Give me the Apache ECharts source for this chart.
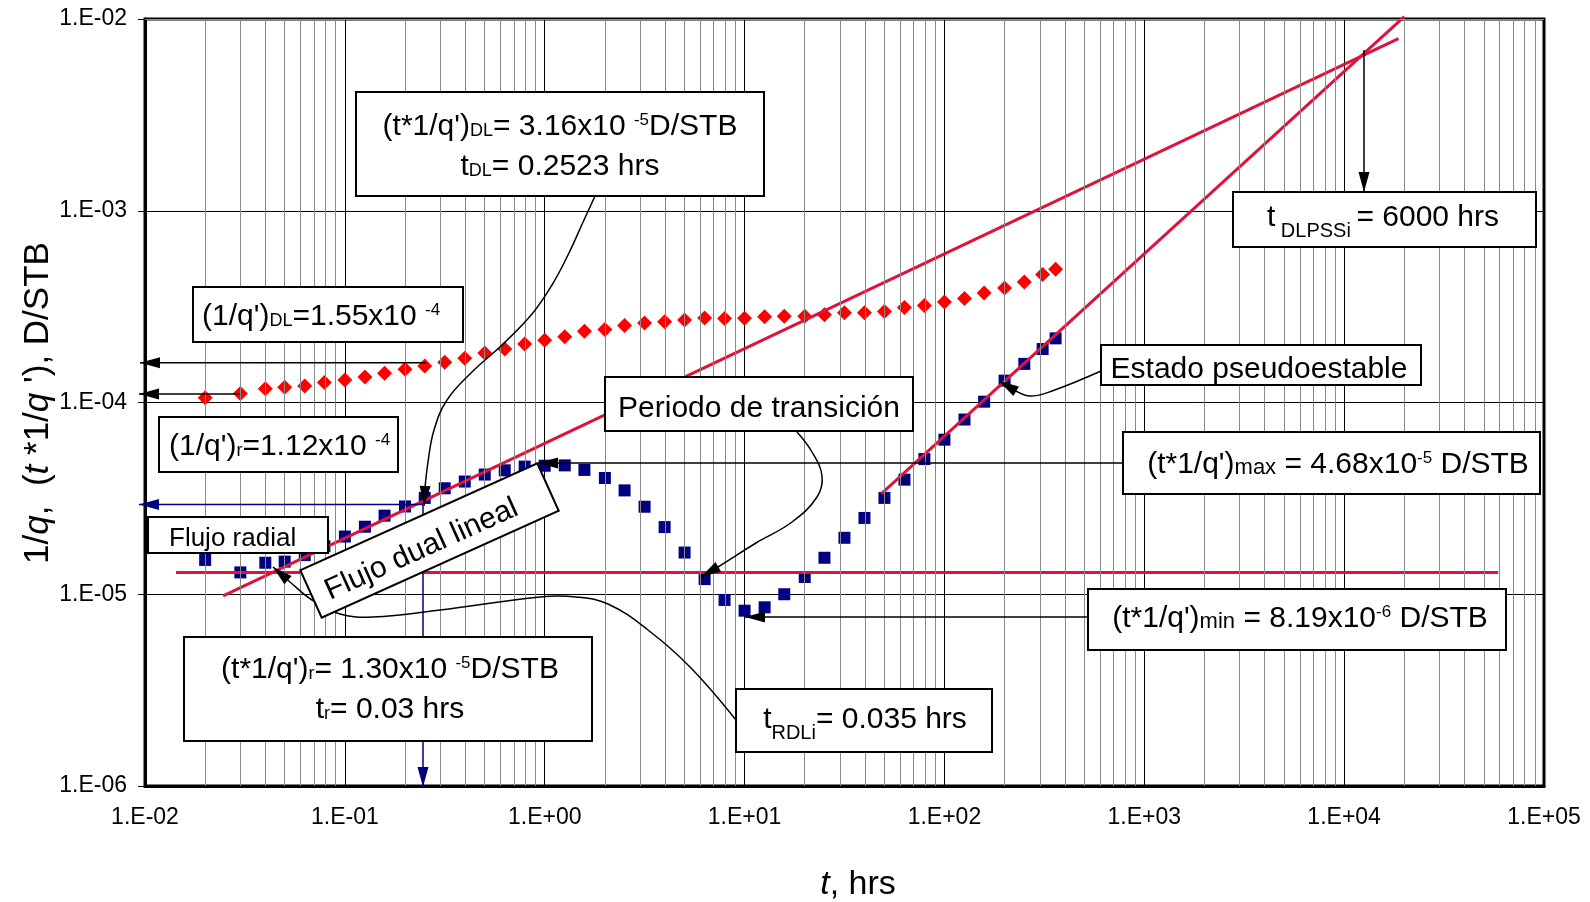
<!DOCTYPE html>
<html><head><meta charset="utf-8">
<script src="https://cdn.jsdelivr.net/npm/echarts@6/dist/echarts.min.js"></script>
<style>html,body{margin:0;padding:0;background:#fff}#c{width:1590px;height:902px}</style>
</head><body><div id="c"></div>
<script>
// ---------- data ----------
const tHours = [0.02,0.03,0.04,0.05,0.063,0.079,0.1,0.126,0.158,0.2,0.251,0.316,0.398,0.501,0.631,0.794,1.0,
  1.26,1.58,2.0,2.51,3.16,3.98,5.01,6.31,7.94,10,12.6,15.8,20,25.1,31.6,39.8,50.1,63.1,79.4,100,126,158,200,251,310,360];
const invQ = [1.06e-4,1.115e-4,1.18e-4,1.20e-4,1.22e-4,1.27e-4,1.31e-4,1.36e-4,1.42e-4,1.49e-4,1.55e-4,1.62e-4,1.70e-4,1.81e-4,1.90e-4,2.02e-4,2.11e-4,
  2.20e-4,2.35e-4,2.40e-4,2.52e-4,2.60e-4,2.64e-4,2.69e-4,2.76e-4,2.74e-4,2.75e-4,2.80e-4,2.82e-4,2.82e-4,2.87e-4,2.94e-4,2.94e-4,2.98e-4,3.13e-4,3.21e-4,3.34e-4,3.49e-4,3.72e-4,3.96e-4,4.25e-4,4.65e-4,4.96e-4];
const tDerivInvQ = [1.51e-5,1.30e-5,1.46e-5,1.48e-5,1.60e-5,1.78e-5,2.00e-5,2.25e-5,2.57e-5,2.87e-5,3.18e-5,3.57e-5,3.87e-5,4.21e-5,4.43e-5,4.63e-5,4.68e-5,
  4.70e-5,4.45e-5,4.04e-5,3.48e-5,2.86e-5,2.24e-5,1.65e-5,1.20e-5,9.34e-6,8.21e-6,8.55e-6,1.00e-5,1.23e-5,1.55e-5,1.97e-5,2.50e-5,3.18e-5,3.96e-5,5.07e-5,6.40e-5,8.15e-5,1.01e-4,1.30e-4,1.59e-4,1.90e-4,2.16e-4];
const radialLineT = [0.0143, 59000], radialLineV = [1.30e-5, 1.30e-5];
const dualLinearT = [0.0246, 18700], dualLinearV = [9.8e-6, 7.9e-3];
const pseudoT = [48.4, 20000], pseudoV = [3.35e-5, 1.03e-2];
const xMin = 0.01, xMax = 1e5, yMin = 1e-6, yMax = 1e-2;

// ---------- helpers ----------
const F = "'Liberation Sans', Arial, Helvetica, sans-serif";
const pair = (xs, ys) => xs.map((x, i) => [x, ys[i]]);
const sciLabel = v => { const e = Math.round(Math.log10(v)); return '1.E' + (e < 0 ? '-' : '+') + String(Math.abs(e)).padStart(2, '0'); };

const minorX = [], minorY = [];
for (let k = -2; k <= 4; k++) for (let m = 2; m <= 9; m++) minorX.push(+(m * Math.pow(10, k)).toPrecision(3));
for (let k = -6; k <= -3; k++) for (let m = 2; m <= 9; m++) minorY.push(+(m * Math.pow(10, k)).toPrecision(3));

function richStyles(LH) {
  return {
    b: {fontSize: 30, fontFamily: F, color: '#000', verticalAlign: 'top', lineHeight: LH},
    s: {fontSize: 18, fontFamily: F, color: '#000', verticalAlign: 'top', lineHeight: LH, padding: [10, 0, 0, 0]},
    p: {fontSize: 17, fontFamily: F, color: '#000', verticalAlign: 'top', lineHeight: LH, padding: [0, 0, 0, 0]},
    l: {fontSize: 20, fontFamily: F, color: '#000', verticalAlign: 'top', lineHeight: LH, padding: [18, 0, 0, 0]},
    m: {fontSize: 22, fontFamily: F, color: '#000', verticalAlign: 'top', lineHeight: LH, padding: [7, 0, 0, 0]}
  };
}
function box(x, y, w, h) {
  return {type: 'rect', z: 100, shape: {x, y, width: w, height: h}, style: {fill: '#fff', stroke: '#000', lineWidth: 2}};
}
function rtext(x, y, text, align, LH) {
  return {type: 'text', z: 101, x, y, style: {text, align, verticalAlign: 'middle', rich: richStyles(LH || 30)}};
}
function ptext(x, y, text, size, align) {
  return {type: 'text', z: 101, x, y, style: {text, align: align || 'center', verticalAlign: 'middle', fontSize: size, fontFamily: F, fill: '#000'}};
}
function head(tip, from, color, L, W) {
  L = L || 20; W = W || 5.5;
  const dx = tip[0] - from[0], dy = tip[1] - from[1], d = Math.hypot(dx, dy);
  const ux = dx / d, uy = dy / d, bx = tip[0] - ux * L, by = tip[1] - uy * L;
  return {type: 'polygon', z: 95, shape: {points: [tip, [bx - uy * W, by + ux * W], [bx + uy * W, by - ux * W]]}, style: {fill: color || '#000'}};
}
function arrow(points, tip, color, smooth, lw) {
  return [
    {type: 'polyline', z: 94, shape: {points: points.concat([tip]), smooth: smooth || 0}, style: {stroke: color || '#000', lineWidth: lw || 1.5, fill: null}},
    head(tip, points[points.length - 1], color)
  ];
}

const graphics = [].concat(
  // arrows / leaders
  arrow([[596,194],[584,220],[568,255],[552,285],[532,314],[502,345],[472,372],[447,400],[434,430],[428,462],[425,488]], [424,506], '#000', 0.4),
  arrow([[426,362.7]], [140,362.7]),
  arrow([[240,394]], [139,394]),
  arrow([[423,504.5]], [139,504.5], '#000080'),
  arrow([[423,504.5]], [423,787], '#000080'),
  arrow([[1123,463]], [538,463]),
  arrow([[1088,617]], [745,617]),
  arrow([[1364,50]], [1364,192]),
  arrow([[797,432],[812,452],[822,476],[817,497],[792,522],[756,543],[718,567]], [701,577], '#000', 0.4),
  arrow([[736,720],[690,667],[648,630],[608,604],[576,597],[540,597],[440,610],[373,617],[340,614],[312,600],[290,582]], [273,567], '#000', 0.4),
  arrow([[1101,371],[1052,391],[1030,396],[1014,390]], [999,381], '#000', 0.4),
  [
    box(356, 92, 408, 104),
    rtext(560, 152, '{b|(t*1/q\')}{s|DL}{b|= 3.16x10 }{p|-5}{b|D/STB}\n{b|t}{s|DL}{b|= 0.2523 hrs}', 'center', 40),
    box(193, 287, 270, 55),
    rtext(202, 317, '{b|(1/q\')}{s|DL}{b|=1.55x10 }{p|-4}', 'left'),
    box(159, 417, 239, 55),
    rtext(169, 447, '{b|(1/q\')}{s|r}{b|=1.12x10 }{p|-4}', 'left'),
    box(148, 517, 180, 36),
    ptext(169, 539, 'Flujo radial', 26, 'left'),
    {type: 'group', x: 429.5, y: 540.5, rotation: 0.424, z: 100, children: [
      {type: 'rect', z: 100, shape: {x: -130, y: -26, width: 260, height: 52}, style: {fill: '#fff', stroke: '#000', lineWidth: 2}},
      {type: 'text', z: 101, x: -11, y: 5, style: {text: 'Flujo dual lineal', align: 'center', verticalAlign: 'middle', fontSize: 30, fontFamily: F, fill: '#000'}}
    ]},
    box(184, 637, 408, 104),
    rtext(390, 695, '{b|(t*1/q\')}{s|r}{b|= 1.30x10 }{p|-5}{b|D/STB}\n{b|t}{s|r}{b|= 0.03 hrs}', 'center', 40),
    box(605, 377, 308, 54),
    ptext(759, 409, 'Periodo de transición', 30),
    box(736, 689, 256, 63),
    rtext(865, 720, '{b|t}{l|RDLi}{b|= 0.035 hrs}', 'center'),
    box(1123, 432, 417, 62),
    rtext(1338, 465, '{b|(t*1/q\')}{m|max}{b| = 4.68x10}{p|-5}{b| D/STB}', 'center'),
    box(1088, 589, 418, 61),
    rtext(1300, 619, '{b|(t*1/q\')}{m|min}{b| = 8.19x10}{p|-6}{b| D/STB}', 'center'),
    box(1233, 192, 303, 55),
    rtext(1383, 218, '{b|t}{l| DLPSSi }{b|= 6000 hrs}', 'center'),
    box(1101, 345, 320, 40),
    ptext(1259, 370, 'Estado pseudoestable', 30),
    // axis titles
    {type: 'text', z: 101, x: 38, y: 403, rotation: Math.PI / 2, style: {
      text: '1/{i|q},  ({i|t} *1/{i|q} \'), D/STB', align: 'center', verticalAlign: 'middle',
      fontSize: 35, fontFamily: F, fill: '#000',
      rich: {i: {fontSize: 35, fontFamily: F, fontStyle: 'italic', color: '#000'}}}},
    {type: 'text', z: 101, x: 858, y: 885, style: {
      text: '{i|t}, hrs', align: 'center', verticalAlign: 'middle', fontSize: 34, fontFamily: F, fill: '#000',
      rich: {i: {fontSize: 34, fontFamily: F, fontStyle: 'italic', color: '#000'}}}}
  ]
);

const chart = echarts.init(document.getElementById('c'), null, {renderer: 'canvas'});
const axisCommon = {
  type: 'log', logBase: 10, interval: 1,
  axisLine: {show: true, onZero: false, lineStyle: {color: '#000', width: 3}},
  splitLine: {show: true, lineStyle: {color: '#000', width: 1}},
  minorSplitLine: {show: false}
};
chart.setOption({
  animation: false,
  backgroundColor: '#fff',
  grid: {left: 145, right: 46, top: 19, bottom: 116, show: true, borderColor: '#000', borderWidth: 3, backgroundColor: 'transparent'},
  xAxis: Object.assign({}, axisCommon, {
    min: xMin, max: xMax,
    axisTick: {show: false},
    axisLabel: {show: true, formatter: sciLabel, fontSize: 23, fontFamily: F, color: '#000', margin: 20, showMinLabel: true, showMaxLabel: true}
  }),
  yAxis: Object.assign({}, axisCommon, {
    min: yMin, max: yMax,
    axisTick: {show: true, inside: false, length: 7, lineStyle: {color: '#000', width: 1}},
    axisLabel: {show: true, formatter: sciLabel, fontSize: 23, fontFamily: F, color: '#000', margin: 18, showMinLabel: true, showMaxLabel: true}
  }),
  series: [
    {type: 'line', name: 'minorGrid', data: [], silent: true, z: 1,
      markLine: {silent: true, symbol: ['none', 'none'], label: {show: false}, animation: false,
        lineStyle: {color: '#8a8a8a', width: 1, type: 'solid'}, emphasis: {disabled: true},
        data: minorX.map(v => ({xAxis: v})).concat(minorY.map(v => ({yAxis: v})))}},
    {type: 'scatter', name: '1/q', data: pair(tHours, invQ), symbol: 'diamond', symbolSize: 15,
      itemStyle: {color: '#ff0000', opacity: 1}, z: 3},
    {type: 'scatter', name: "t*1/q'", data: pair(tHours, tDerivInvQ), symbol: 'rect', symbolSize: 12,
      itemStyle: {color: '#000080', opacity: 1}, z: 3},
    {type: 'line', name: 'radial', data: pair(radialLineT, radialLineV), symbol: 'none', z: 4,
      lineStyle: {color: '#dc143c', width: 3}},
    {type: 'line', name: 'dual lineal', data: pair(dualLinearT, dualLinearV), symbol: 'none', z: 4,
      lineStyle: {color: '#dc143c', width: 3}},
    {type: 'line', name: 'pseudoestable', data: pair(pseudoT, pseudoV), symbol: 'none', z: 4, clip: false,
      lineStyle: {color: '#dc143c', width: 3}}
  ],
  graphic: graphics
});
</script>
</body></html>
